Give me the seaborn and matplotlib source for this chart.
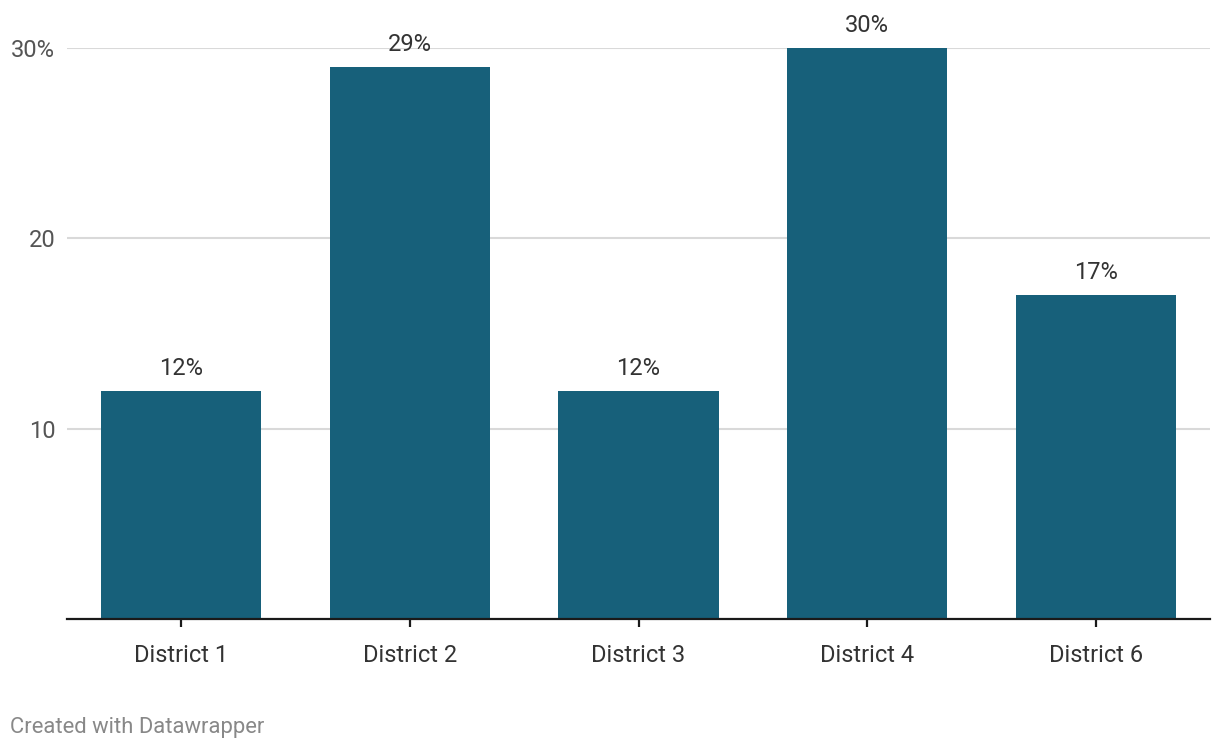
import pandas as pd
import matplotlib
matplotlib.use('Agg')
import matplotlib.pyplot as plt
import seaborn as sns

# Data
districts = ['District 1', 'District 2', 'District 3', 'District 4', 'District 6']
shares = [12, 29, 12, 30, 17]
y_ticks = [10, 20, 30]
y_tick_labels = ['10', '20', '30%']

df = pd.DataFrame({'district': districts, 'share': shares})

sns.set_theme(style='white')
plt.rcParams['font.family'] = ['Roboto', 'DejaVu Sans']

fig = plt.figure(figsize=(12.2, 7.5), dpi=100)
ax = fig.add_axes([67 / 1220, 131 / 750, (1210 - 67) / 1220, (619 - 48) / 750])

sns.barplot(data=df, x='district', y='share', color='#17607a', width=0.7,
            saturation=1, linewidth=0, ax=ax)

ax.set_xlim(-0.5, len(districts) - 0.5)
ax.set_ylim(0, 30)
ax.set_yticks(y_ticks)
ax.set_yticklabels(y_tick_labels)
ax.yaxis.grid(True, color='#d9d9d9', linewidth=1.5)
ax.set_axisbelow(True)
ax.set_xlabel('')
ax.set_ylabel('')

for side in ['top', 'right', 'left']:
    ax.spines[side].set_visible(False)
ax.spines['bottom'].set_color('#1a1a1a')
ax.spines['bottom'].set_linewidth(1.6)
ax.spines['bottom'].set_zorder(5)

ax.tick_params(axis='y', length=0, pad=8.5, labelsize=17, labelcolor='#555555')
ax.tick_params(axis='x', length=6, width=1.6, color='#1a1a1a', pad=12,
               labelsize=17, labelcolor='#333333', bottom=True)

for i, v in enumerate(shares):
    ax.annotate(f'{v}%', (i, v), xytext=(0, 11.5), textcoords='offset points',
                ha='center', va='baseline', fontsize=17, color='#333333',
                annotation_clip=False)

fig.text(10 / 1220, 1 - 733 / 750, 'Created with Datawrapper', fontsize=15.8,
         color='#888888', ha='left', va='baseline')

fig.savefig('out.png', dpi=100, facecolor='white')
